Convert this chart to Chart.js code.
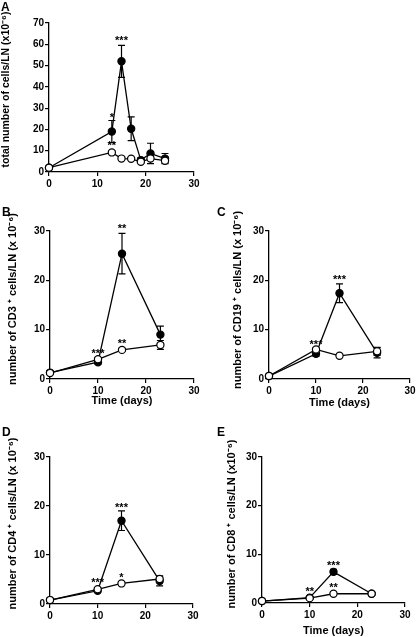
<html>
<head>
<meta charset="utf-8" />
<title>LN cell numbers</title>
<style>
  body { margin: 0; background: #fff; width: 416px; height: 637px; position: relative; overflow: hidden; font-family: "Liberation Sans", Arial, sans-serif; }
  .box { position: absolute; }
  .lbl { position: absolute; font-weight: bold; font-size: 12px; line-height: 12px; }
</style>
</head>
<body>
<div class="box" style="left:0;top:0"><canvas id="cA" width="210" height="200"></canvas></div>
<div class="box" style="left:0;top:200px"><canvas id="cB" width="210" height="215"></canvas></div>
<div class="box" style="left:200px;top:200px"><canvas id="cC" width="216" height="215"></canvas></div>
<div class="box" style="left:0;top:415px"><canvas id="cD" width="210" height="222"></canvas></div>
<div class="box" style="left:200px;top:415px"><canvas id="cE" width="216" height="222"></canvas></div>
<div class="lbl" style="left:1px;top:1px">A</div>
<div class="lbl" style="left:2px;top:206px">B</div>
<div class="lbl" style="left:217px;top:206px">C</div>
<div class="lbl" style="left:2px;top:426px">D</div>
<div class="lbl" style="left:217px;top:426px">E</div>

<script src="https://cdn.jsdelivr.net/npm/chart.js"></script>
<script>
  // A: total cells
  var daysA = [0, 13, 15, 17, 19, 21, 24];
  var filledA = [2, 19, 52, 20.3, 5.6, 8.7, 6.3];
  var filledErrA = [0.5, 5.2, 7.5, 5.6, 1.0, 4.8, 2.4];
  var openA = [2, 9.2, 6.3, 6.2, 4.8, 6.3, 5.3];
  var openErrA = [0.3, 0.8, 0.5, 0.5, 0.8, 2.3, 1.0];
  var starsA = [{ x: 13, y: 27, t: "*" }, { x: 13, y: 13.5, t: "**" }, { x: 15, y: 63, t: "***" }];

  // B-E: subsets
  var days = [0, 10, 15, 23];
  var filledB = [1.3, 3.4, 25.4, 9.0];
  var filledErrB = [0.3, 0.4, 4.1, 1.7];
  var openB = [1.2, 4.0, 5.9, 6.9];
  var openErrB = [0.2, 0.3, 0.3, 0.9];
  var starsB = [{ x: 10, y: 5.6, t: "***" }, { x: 15, y: 31, t: "**" }, { x: 15, y: 7.8, t: "**" }];

  var filledC = [0.6, 5.1, 17.4, 5.3];
  var filledErrC = [0.2, 0.5, 1.9, 1.0];
  var openC = [0.6, 6.0, 4.7, 5.6];
  var openErrC = [0.2, 0.3, 0.3, 0.8];
  var starsC = [{ x: 10, y: 7.6, t: "***" }, { x: 15, y: 20.6, t: "***" }];

  var filledD = [0.8, 2.7, 17.0, 4.7];
  var filledErrD = [0.2, 0.3, 2.0, 1.0];
  var openD = [0.8, 3.0, 4.2, 5.1];
  var openErrD = [0.2, 0.3, 0.3, 0.6];
  var starsD = [{ x: 10, y: 4.9, t: "***" }, { x: 15, y: 5.9, t: "*" }, { x: 15, y: 20.2, t: "***" }];

  var filledE = [0.4, 1.1, 6.4, 1.9];
  var filledErrE = [0.1, 0.2, 0.5, 0.3];
  var openE = [0.4, 1.0, 1.9, 1.9];
  var openErrE = [0.1, 0.2, 0.3, 0.3];
  var starsE = [{ x: 10, y: 2.8, t: "**" }, { x: 15, y: 8.2, t: "***" }, { x: 15, y: 3.6, t: "**" }];

  var FONT = "'Liberation Sans', Arial, sans-serif";

  function pts(xs, ys) {
    return xs.map(function (x, i) { return { x: x, y: ys[i] }; });
  }

  // error bars under the points, asterisks + y title over them
  var errStars = {
    id: "errStars",
    beforeDatasetsDraw: function (chart) {
      var ctx = chart.ctx, xs = chart.scales.x, ys = chart.scales.y;
      ctx.save();
      ctx.strokeStyle = "#000";
      ctx.lineWidth = 1.2;
      chart.data.datasets.forEach(function (ds) {
        ds.data.forEach(function (p, i) {
          var e = ds.err[i];
          if (!e) return;
          var px = xs.getPixelForValue(p.x);
          var t = ys.getPixelForValue(p.y + e), b = ys.getPixelForValue(p.y - e);
          ctx.beginPath();
          ctx.moveTo(px, t); ctx.lineTo(px, b);
          ctx.moveTo(px - 3.5, t); ctx.lineTo(px + 3.5, t);
          ctx.moveTo(px - 3.5, b); ctx.lineTo(px + 3.5, b);
          ctx.stroke();
        });
      });
      ctx.restore();
    },
    afterDatasetsDraw: function (chart, args, opts) {
      var ctx = chart.ctx, xs = chart.scales.x, ys = chart.scales.y;
      ctx.save();
      ctx.fillStyle = "#000";
      ctx.font = "bold 11px " + FONT;
      ctx.textAlign = "center";
      ctx.textBaseline = "alphabetic";
      (opts.stars || []).forEach(function (s) {
        ctx.fillText(s.t, xs.getPixelForValue(s.x), ys.getPixelForValue(s.y) + 6);
      });
      // y axis title, centred a little above the plot centre like the original
      var yt = opts.yTitle;
      if (yt) {
        var cy = (chart.chartArea.top + chart.chartArea.bottom) / 2 - yt.up;
        ctx.font = "bold " + yt.size + "px " + FONT;
        ctx.translate(yt.x, cy);
        ctx.rotate(-Math.PI / 2);
        ctx.textBaseline = "middle";
        ctx.fillText(yt.text, 0, 0);
      }
      ctx.restore();
    }
  };

  function makeChart(id, p) {
    var ctx = document.getElementById(id).getContext("2d");
    return new Chart(ctx, {
      type: "scatter",
      data: {
        datasets: [
          {
            data: pts(p.x, p.open), err: p.openErr,
            showLine: true, borderColor: "#000", borderWidth: 1.3,
            pointRadius: 3.6, pointBackgroundColor: "#fff", pointBorderColor: "#000", pointBorderWidth: 1.2,
            clip: false
          },
          {
            data: pts(p.x, p.filled), err: p.filledErr,
            showLine: true, borderColor: "#000", borderWidth: 1.3,
            pointRadius: 3.6, pointBackgroundColor: "#000", pointBorderColor: "#000", pointBorderWidth: 1.2,
            clip: false
          }
        ]
      },
      options: {
        responsive: false,
        animation: false,
        devicePixelRatio: 1,
        layout: { padding: { left: 0, top: p.top, right: p.right, bottom: 0 } },
        plugins: {
          legend: { display: false },
          tooltip: { enabled: false },
          errStars: { stars: p.stars, yTitle: { text: p.yTitle, x: p.yTitleX, up: p.yTitleUp, size: p.yTitleSize || 11 } }
        },
        scales: {
          x: {
            type: "linear", min: 0, max: 30,
            ticks: { stepSize: 10, color: "#000", font: { family: FONT, size: 10, weight: "bold" }, padding: 2, maxRotation: 0 },
            grid: { drawOnChartArea: false, drawTicks: true, tickLength: 4, color: "#000", lineWidth: 1.2 },
            border: { color: "#000", width: 1.3 },
            title: { display: !!p.xTitle, text: p.xTitle || "", color: "#000", font: { family: FONT, size: 11, weight: "bold" }, padding: { bottom: p.xTitlePad || 0 } },
            afterFit: function (s) { s.height = p.xh; s.paddingLeft = 0; s.paddingRight = 0; }
          },
          y: {
            min: 0, max: p.ymax,
            ticks: { stepSize: 10, color: "#000", font: { family: FONT, size: 10, weight: "bold" }, padding: 1 },
            grid: { drawOnChartArea: false, drawTicks: true, tickLength: 4, color: "#000", lineWidth: 1.2 },
            border: { color: "#000", width: 1.3 },
            afterFit: function (s) { s.width = p.yw; s.paddingTop = 0; s.paddingBottom = 0; }
          }
        }
      },
      plugins: [errStars]
    });
  }

  makeChart("cA", { x: daysA, filled: filledA, filledErr: filledErrA, open: openA, openErr: openErrA, stars: starsA,
    ymax: 70, yw: 49, xh: 28, top: 23, right: 16, yTitle: "total number of cells/LN (x10\u207B\u2076)", yTitleX: 6, yTitleUp: 8, yTitleSize: 10.5 });
  makeChart("cB", { x: days, filled: filledB, filledErr: filledErrB, open: openB, openErr: openErrB, stars: starsB,
    ymax: 30, yw: 50, xh: 36, top: 31, right: 16, yTitle: "number of CD3 \u207A cells/LN (x 10\u207B\u2076)", yTitleX: 13, yTitleUp: 6,
    xTitle: "Time (days)", xTitlePad: 7 });
  makeChart("cC", { x: days, filled: filledC, filledErr: filledErrC, open: openC, openErr: openErrC, stars: starsC,
    ymax: 30, yw: 69, xh: 36, top: 31, right: 6, yTitle: "number of CD19 \u207A cells/LN (x 10\u207B\u2076)", yTitleX: 38, yTitleUp: 5,
    xTitle: "Time (days)", xTitlePad: 5 });
  makeChart("cD", { x: days, filled: filledD, filledErr: filledErrD, open: openD, openErr: openErrD, stars: starsD,
    ymax: 30, yw: 50, xh: 33, top: 42, right: 17, yTitle: "number of CD4 \u207A cells/LN (x 10\u207B\u2076)", yTitleX: 13, yTitleUp: 7 });
  makeChart("cE", { x: days, filled: filledE, filledErr: filledErrE, open: openE, openErr: openErrE, stars: starsE,
    ymax: 30, yw: 62, xh: 34, top: 42, right: 11, yTitle: "number of CD8 \u207A cells/LN (x10\u207B\u2076)", yTitleX: 32, yTitleUp: 6,
    xTitle: "Time (days)", xTitlePad: -1 });
</script>
</body>
</html>
